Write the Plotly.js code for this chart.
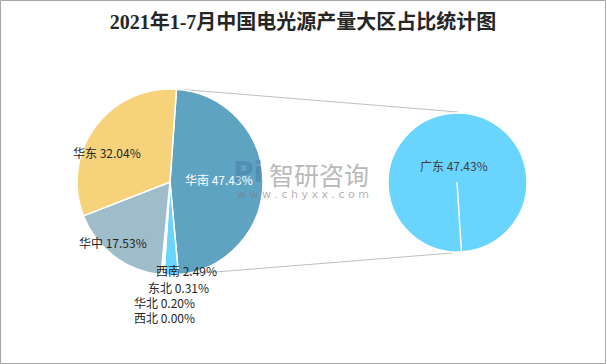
<!DOCTYPE html>
<html><head><meta charset="utf-8">
<script src="https://cdn.plot.ly/plotly-3.0.1.min.js"></script>
<style>html,body{margin:0;padding:0;background:#fff}#chart{width:606px;height:364px}</style>
</head><body><div id="chart"></div>
<script>
// ---- data ----
const titleText = '2021年1-7月中国电光源产量大区占比统计图';
const regions = ['华南', '西南', '东北', '华北', '西北', '华中', '华东'];
const regionShares = [47.43, 2.49, 0.31, 0.20, 0.00, 17.53, 32.04];
const provinces = ['广东'];
const provinceShares = [47.43];

// ---- styles ----
const regionColors = ['#5FA3C3', '#69D5FE', '#F08C4A', '#A5A5A5', '#4472C4', '#9EBCCA', '#F6D27B'];
const provinceColors = ['#69D5FE'];
const W = 606, H = 364;
const px = x => x / W;
const py = y => 1 - y / H;

// label anchor positions (pixels) for each slice label
const regionLabelPos = [[219, 179], [186, 270], [178, 287], [164, 302], [164, 317], [113, 243], [107, 152]];
const regionLabelColor = ['#FFFFFF', '#262626', '#262626', '#262626', '#262626', '#262626', '#262626'];
const provinceLabelPos = [[454, 166]];

const labelFont = {family: '"Noto Sans CJK SC", "Microsoft YaHei", sans-serif', size: 12};

const traces = [
  {
    type: 'pie', labels: regions, values: regionShares, sort: false,
    direction: 'clockwise', rotation: 4,
    marker: {colors: regionColors, line: {color: '#FFFFFF', width: 1.5}},
    textinfo: 'none', hoverinfo: 'label+percent', showlegend: false,
    domain: {x: [px(77), px(263)], y: [py(275), py(89)]}
  },
  {
    type: 'pie', labels: provinces, values: provinceShares, sort: false,
    direction: 'clockwise', rotation: 176,
    marker: {colors: provinceColors, line: {color: '#FFFFFF', width: 1.5}},
    textinfo: 'none', hoverinfo: 'label', showlegend: false,
    domain: {x: [px(388), px(527)], y: [py(252), py(113)]}
  }
];

const annotations = [];
regions.forEach((r, i) => {
  annotations.push({
    xref: 'paper', yref: 'paper', x: px(regionLabelPos[i][0]), y: py(regionLabelPos[i][1]),
    text: r + ' ' + regionShares[i].toFixed(2) + '%', showarrow: false,
    xanchor: 'center', yanchor: 'middle',
    font: Object.assign({}, labelFont, {color: regionLabelColor[i]})
  });
});
provinces.forEach((p, i) => {
  annotations.push({
    xref: 'paper', yref: 'paper', x: px(provinceLabelPos[i][0]), y: py(provinceLabelPos[i][1]),
    text: p + ' ' + provinceShares[i].toFixed(2) + '%', showarrow: false,
    xanchor: 'center', yanchor: 'middle',
    font: Object.assign({}, labelFont, {color: '#404040'})
  });
});
// watermark
annotations.push({xref: 'paper', yref: 'paper', x: px(248), y: py(172), text: '<b>Pi</b>', showarrow: false,
  xanchor: 'center', yanchor: 'middle', opacity: 0.35,
  font: {family: 'DejaVu Sans, sans-serif', size: 28, color: '#3D6A96'}});
annotations.push({xref: 'paper', yref: 'paper', x: px(319), y: py(174), text: '智研咨询', showarrow: false,
  xanchor: 'center', yanchor: 'middle', opacity: 0.6,
  font: {family: '"Noto Sans CJK SC", sans-serif', size: 25, color: '#8C8C8C'}});
annotations.push({xref: 'paper', yref: 'paper', x: px(303), y: py(194), text: 'w w w . c h y x x . c o m', showarrow: false,
  xanchor: 'center', yanchor: 'middle', opacity: 0.6,
  font: {family: 'DejaVu Sans, sans-serif', size: 11, color: '#7F7F7F'}});

const shapes = [
  // chart border
  {type: 'rect', xref: 'paper', yref: 'paper', x0: px(0.5), x1: px(W - 0.5), y0: py(H - 0.5), y1: py(0.5),
   line: {color: '#A6A6A6', width: 1}, layer: 'above'},
  // connector lines from primary pie to secondary pie
  {type: 'line', xref: 'paper', yref: 'paper', x0: px(177), y0: py(89), x1: px(458), y1: py(112),
   line: {color: '#BFBFBF', width: 1}, layer: 'below'},
  {type: 'line', xref: 'paper', yref: 'paper', x0: px(178), y0: py(275), x1: px(452), y1: py(253),
   line: {color: '#BFBFBF', width: 1}, layer: 'below'},
  // slice border of secondary pie
  {type: 'line', xref: 'paper', yref: 'paper', x0: px(457), y0: py(182), x1: px(461.5), y1: py(252.5),
   line: {color: '#FFFFFF', width: 1.5}, layer: 'above'}
];

const layout = {
  width: W, height: H,
  margin: {l: 0, r: 0, t: 0, b: 0},
  paper_bgcolor: '#FFFFFF',
  title: {text: titleText, x: 0.5, xanchor: 'center', y: py(22), yanchor: 'middle',
    font: {family: '"Liberation Serif", "Noto Sans CJK SC", serif', size: 20, color: '#262626', weight: 'bold'}},
  annotations: annotations,
  shapes: shapes
};

Plotly.newPlot('chart', traces, layout, {displayModeBar: false, staticPlot: true});
</script>
</body></html>
